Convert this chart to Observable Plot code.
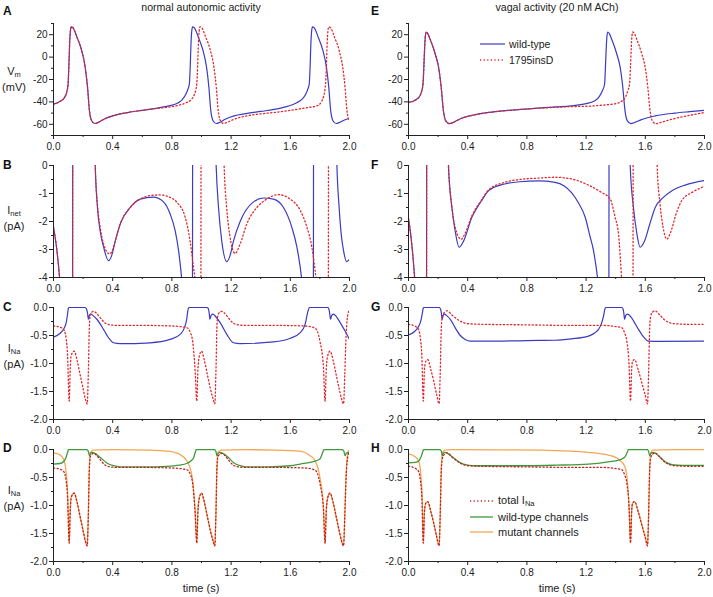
<!DOCTYPE html>
<html>
<head>
<meta charset="utf-8">
<script src="https://cdn.jsdelivr.net/npm/d3@7"></script>
<script src="https://cdn.jsdelivr.net/npm/@observablehq/plot@0.6"></script>
<style>
  html, body { margin: 0; padding: 0; background: #fff; }
  #root { position: relative; width: 713px; height: 597px; overflow: hidden; font-family: "Liberation Sans", Arial, sans-serif; }
  #root svg.plotpanel { position: absolute; }
  #ov { position: absolute; left: 0; top: 0; pointer-events: none; }
</style>
</head>
<body>
<div id="root">
<svg id="ov" width="713" height="597" font-family="Liberation Sans, Arial, sans-serif" fill="#222">
  <text x="201" y="11" font-size="10.6" text-anchor="middle">normal autonomic activity</text>
  <text x="557" y="11" font-size="10.6" text-anchor="middle">vagal activity (20 nM ACh)</text>
  <g font-size="12" font-weight="bold" fill="#111">
    <text x="3" y="15">A</text><text x="371" y="15">E</text>
    <text x="3" y="169">B</text><text x="371" y="169">F</text>
    <text x="3" y="311">C</text><text x="371" y="311">G</text>
    <text x="3" y="452">D</text><text x="371" y="452">H</text>
  </g>
  <g font-size="11" text-anchor="middle">
    <text x="14" y="75">V<tspan font-size="7.5" dy="2">m</tspan></text>
    <text x="14" y="91">(mV)</text>
    <text x="14" y="214">I<tspan font-size="7.5" dy="2">net</tspan></text>
    <text x="14" y="230">(pA)</text>
    <text x="14" y="352">I<tspan font-size="7.5" dy="2">Na</tspan></text>
    <text x="14" y="368">(pA)</text>
    <text x="14" y="494">I<tspan font-size="7.5" dy="2">Na</tspan></text>
    <text x="14" y="510">(pA)</text>
  </g>
  <g font-size="11" text-anchor="middle">
    <text x="201" y="592">time (s)</text>
    <text x="557" y="592">time (s)</text>
  </g>
  <g font-size="10.5">
    <line x1="480" x2="505" y1="44" y2="44" stroke="#3b3bc4" stroke-width="1.2"/>
    <text x="509" y="48">wild-type</text>
    <line x1="480" x2="505" y1="60" y2="60" stroke="#e3262b" stroke-width="1.3" stroke-dasharray="1.2,2.4"/>
    <text x="509" y="64">1795insD</text>
  </g>
  <g font-size="11">
    <line x1="470" x2="493" y1="501" y2="501" stroke="#c42222" stroke-width="1.3" stroke-dasharray="1.2,2.4"/>
    <text x="498" y="504">total I<tspan font-size="7.5" dy="2">Na</tspan></text>
    <line x1="470" x2="493" y1="517" y2="517" stroke="#409a3c" stroke-width="1.3"/>
    <text x="498" y="521">wild-type channels</text>
    <line x1="470" x2="493" y1="532" y2="532" stroke="#f4a553" stroke-width="1.3"/>
    <text x="498" y="536">mutant channels</text>
  </g>
</svg>
</div>
<script>
// ---------- tick values ----------
const xTicks = [0, 0.4, 0.8, 1.2, 1.6, 2.0];
const xMinorTicks = [0.2, 0.6, 1.0, 1.4, 1.8];
const vmTicks = [-60, -40, -20, 0, 20];
const vmMinorTicks = [-70, -50, -30, -10, 10, 30];
const inetTicks = [-4, -3, -2, -1, 0];
const inetMinorTicks = [-3.5, -2.5, -1.5, -0.5];
const inaTicks = [-2, -1.5, -1, -0.5, 0];
const inaMinorTicks = [-1.75, -1.25, -0.75, -0.25];

// ---------- A: Vm, normal autonomic activity ----------
const vmNormalWT = [[0,-42],[0.045,-39.5],[0.075,-36],[0.09,-31],[0.098,-25],[0.104,-8],[0.109,12],[0.114,23],[0.12,27],[0.13,26.5],[0.158,18],[0.19,6],[0.214,-9],[0.23,-27],[0.243,-48],[0.259,-57],[0.28,-59.3],[0.30,-58.5],[0.34,-55.5],[0.40,-52.5],[0.5,-49.5],[0.6,-47.5],[0.7,-45.5],[0.78,-43.5],[0.84,-41],[0.87,-38],[0.895,-33],[0.91,-28],[0.918,-24],[0.924,-8],[0.929,12],[0.934,23],[0.94,27],[0.95,26.5],[0.978,18],[1.01,6],[1.034,-9],[1.05,-27],[1.063,-48],[1.079,-57],[1.10,-59.3],[1.12,-58.5],[1.16,-55.5],[1.22,-52.5],[1.3,-50.5],[1.4,-48.5],[1.5,-46.5],[1.58,-44],[1.64,-41],[1.68,-37.5],[1.705,-33],[1.72,-28],[1.728,-24],[1.734,-8],[1.739,12],[1.744,23],[1.75,27],[1.76,26.5],[1.788,18],[1.82,6],[1.844,-9],[1.86,-27],[1.873,-48],[1.889,-57],[1.91,-59.3],[1.93,-58.5],[1.97,-56],[2.0,-54.5]];
const vmNormalMut = [[0,-42],[0.045,-39.5],[0.075,-36],[0.09,-31],[0.098,-25],[0.104,-8],[0.109,12],[0.114,23],[0.12,27],[0.13,26.5],[0.158,18],[0.19,6],[0.214,-9],[0.23,-27],[0.243,-48],[0.259,-57],[0.28,-59.3],[0.30,-58.5],[0.34,-55.5],[0.40,-52.5],[0.5,-49.5],[0.6,-47.5],[0.7,-45.8],[0.8,-44.2],[0.86,-42.5],[0.9,-40.5],[0.93,-38],[0.95,-34],[0.962,-29],[0.968,-24],[0.974,-8],[0.979,12],[0.984,23],[0.99,27],[1.0,26.5],[1.028,18],[1.06,6],[1.084,-9],[1.1,-27],[1.113,-48],[1.129,-57],[1.15,-59.3],[1.17,-58.5],[1.21,-56],[1.27,-53.5],[1.35,-51.5],[1.45,-50],[1.55,-48.5],[1.65,-46.5],[1.72,-45],[1.78,-43.5],[1.81,-40],[1.825,-35],[1.834,-29],[1.838,-24],[1.844,-8],[1.849,12],[1.854,23],[1.86,27],[1.87,26.5],[1.898,18],[1.93,6],[1.954,-9],[1.97,-27],[1.983,-48],[1.999,-57],[2.0,-57.3]];

// ---------- E: Vm, vagal activity ----------
const vmVagalWT = [[0,-40.5],[0.045,-38.5],[0.075,-35],[0.09,-30],[0.098,-24],[0.104,-8],[0.109,8],[0.114,19],[0.12,22.4],[0.13,21],[0.146,16],[0.18,3],[0.203,-9],[0.221,-27],[0.236,-48],[0.252,-57],[0.275,-59.4],[0.30,-58.5],[0.35,-55],[0.43,-52],[0.55,-49.3],[0.7,-47.3],[0.85,-45.8],[1.0,-44.5],[1.1,-43.5],[1.2,-41.5],[1.26,-39],[1.29,-35],[1.31,-30],[1.325,-24],[1.331,-8],[1.336,8],[1.341,19],[1.347,22.4],[1.357,21],[1.373,16],[1.407,3],[1.43,-9],[1.448,-27],[1.463,-48],[1.479,-57],[1.502,-59.4],[1.53,-58.3],[1.57,-56],[1.667,-52.5],[1.8,-50],[1.9,-48.7],[2.0,-47.5]];
const vmVagalMut = [[0,-40.5],[0.045,-38.5],[0.075,-35],[0.09,-30],[0.098,-24],[0.104,-8],[0.109,8],[0.114,19],[0.12,22.4],[0.13,21],[0.146,16],[0.18,3],[0.203,-9],[0.221,-27],[0.236,-48],[0.252,-57],[0.275,-59.4],[0.30,-58.5],[0.35,-55],[0.43,-52],[0.55,-49.3],[0.7,-47.3],[0.85,-45.9],[1.0,-44.8],[1.1,-44.2],[1.216,-43.8],[1.3,-43],[1.4,-41.5],[1.44,-39.5],[1.465,-36],[1.482,-30],[1.494,-24],[1.5,-8],[1.505,8],[1.51,19],[1.516,22.4],[1.526,21],[1.542,16],[1.576,3],[1.599,-9],[1.617,-27],[1.632,-48],[1.648,-57],[1.671,-59.4],[1.7,-58.5],[1.78,-55.5],[1.9,-52],[2.0,-49.5]];

// ---------- B: Inet, normal ----------
const inetNormalWT = [[0,-2.2],[0.02,-2.9],[0.045,-4.3],[0.08,-8],[0.127,-12],[0.132,8],[0.2,8],[0.27,3],[0.282,0],[0.297,-1.5],[0.315,-2.33],[0.338,-2.9],[0.372,-3.4],[0.394,-3.2],[0.417,-2.7],[0.45,-2.1],[0.518,-1.5],[0.586,-1.2],[0.676,-1.13],[0.743,-1.3],[0.788,-1.73],[0.822,-2.33],[0.845,-3.04],[0.867,-4.1],[0.9,-7],[0.937,-12],[0.942,8],[1.02,8],[1.085,3],[1.099,0],[1.115,-1.5],[1.137,-2.7],[1.171,-3.43],[1.194,-3.2],[1.216,-2.7],[1.261,-2.0],[1.351,-1.3],[1.419,-1.16],[1.486,-1.2],[1.554,-1.5],[1.61,-2.2],[1.644,-2.9],[1.678,-4.1],[1.72,-7],[1.754,-12],[1.759,8],[1.85,8],[1.903,3],[1.915,0],[1.93,-1.5],[1.945,-2.5],[1.96,-3.05],[1.98,-3.43],[2.0,-3.35]];
const inetNormalMut = [[0,-2.2],[0.02,-2.9],[0.045,-4.3],[0.08,-8],[0.127,-12],[0.132,8],[0.2,8],[0.27,3],[0.282,0],[0.297,-1.4],[0.315,-2.2],[0.338,-2.8],[0.38,-3.16],[0.40,-3.0],[0.42,-2.65],[0.45,-2.1],[0.518,-1.5],[0.586,-1.2],[0.66,-1.07],[0.72,-1.05],[0.78,-1.12],[0.833,-1.31],[0.89,-1.85],[0.923,-2.7],[0.946,-3.64],[0.957,-4.1],[0.98,-7],[0.994,-12],[0.999,8],[1.08,8],[1.14,3],[1.153,0],[1.17,-1.5],[1.19,-2.45],[1.227,-3.14],[1.261,-2.8],[1.306,-2.09],[1.374,-1.5],[1.441,-1.2],[1.52,-1.04],[1.599,-1.2],[1.667,-1.6],[1.712,-2.2],[1.745,-2.9],[1.775,-4.1],[1.82,-7],[1.855,-12],[1.86,8],[2.0,8]];

// ---------- F: Inet, vagal ----------
const inetVagalWT = [[0,-1.9],[0.02,-2.7],[0.045,-4.3],[0.08,-8],[0.12,-12],[0.125,8],[0.2,8],[0.26,3],[0.27,0],[0.293,-1.5],[0.315,-2.33],[0.342,-2.92],[0.372,-2.7],[0.428,-1.85],[0.495,-1.25],[0.54,-0.9],[0.65,-0.66],[0.75,-0.58],[0.88,-0.55],[0.99,-0.6],[1.05,-0.72],[1.10,-0.96],[1.15,-1.35],[1.194,-1.85],[1.225,-2.5],[1.25,-3.04],[1.279,-4.1],[1.32,-7],[1.352,-12],[1.357,8],[1.45,8],[1.488,3],[1.498,0],[1.52,-1.5],[1.54,-2.33],[1.565,-2.92],[1.595,-2.7],[1.63,-2.1],[1.667,-1.5],[1.72,-1.15],[1.78,-0.9],[1.87,-0.7],[2.0,-0.54]];
const inetVagalMut = [[0,-1.9],[0.02,-2.7],[0.045,-4.3],[0.08,-8],[0.12,-12],[0.125,8],[0.2,8],[0.26,3],[0.27,0],[0.293,-1.45],[0.32,-2.3],[0.356,-2.63],[0.38,-2.45],[0.428,-1.8],[0.495,-1.22],[0.54,-0.88],[0.65,-0.6],[0.75,-0.5],[0.88,-0.45],[0.99,-0.42],[1.1,-0.48],[1.216,-0.7],[1.3,-0.95],[1.363,-1.2],[1.396,-1.85],[1.419,-2.45],[1.441,-4.1],[1.48,-7],[1.515,-12],[1.52,8],[1.62,8],[1.67,3],[1.68,0],[1.70,-1.4],[1.72,-2.2],[1.745,-2.63],[1.77,-2.4],[1.81,-1.7],[1.847,-1.25],[1.92,-0.95],[2.0,-0.74]];

// ---------- C: INa, normal ----------
const inaNormalWT = [[0,-0.53],[0.045,-0.46],[0.07,-0.38],[0.085,-0.28],[0.095,-0.12],[0.1,-0.02],[0.105,0],[0.21,0],[0.222,-0.02],[0.23,-0.1],[0.236,-0.21],[0.243,-0.14],[0.252,-0.12],[0.27,-0.15],[0.293,-0.21],[0.338,-0.39],[0.372,-0.54],[0.405,-0.63],[0.45,-0.645],[0.653,-0.63],[0.788,-0.57],[0.856,-0.48],[0.885,-0.36],[0.9,-0.21],[0.908,-0.05],[0.915,0],[1.036,0],[1.046,-0.02],[1.052,-0.1],[1.057,-0.21],[1.065,-0.14],[1.077,-0.12],[1.095,-0.16],[1.126,-0.27],[1.171,-0.48],[1.216,-0.63],[1.26,-0.645],[1.486,-0.615],[1.6,-0.55],[1.667,-0.45],[1.7,-0.3],[1.72,-0.06],[1.73,0],[1.851,0],[1.86,-0.02],[1.866,-0.1],[1.872,-0.21],[1.88,-0.14],[1.892,-0.12],[1.91,-0.16],[1.937,-0.27],[1.97,-0.42],[2.0,-0.57]];
const inaNormalMut = [[0,-0.33],[0.04,-0.35],[0.068,-0.39],[0.085,-0.55],[0.095,-0.85],[0.106,-1.67],[0.113,-1.1],[0.12,-0.85],[0.14,-0.78],[0.16,-0.95],[0.18,-1.2],[0.2,-1.45],[0.214,-1.62],[0.228,-1.72],[0.235,-1.2],[0.243,-0.3],[0.25,-0.12],[0.27,-0.07],[0.29,-0.1],[0.315,-0.18],[0.35,-0.28],[0.383,-0.31],[0.43,-0.32],[0.6,-0.32],[0.8,-0.33],[0.9,-0.36],[0.925,-0.45],[0.94,-0.6],[0.957,-1.13],[0.968,-1.67],[0.976,-1.1],[0.985,-0.87],[1.0,-0.78],[1.02,-0.95],[1.04,-1.2],[1.06,-1.45],[1.077,-1.62],[1.09,-1.72],[1.097,-1.2],[1.105,-0.3],[1.112,-0.12],[1.135,-0.07],[1.155,-0.1],[1.18,-0.18],[1.215,-0.28],[1.25,-0.31],[1.3,-0.32],[1.5,-0.32],[1.7,-0.33],[1.768,-0.37],[1.8,-0.6],[1.824,-1.07],[1.835,-1.67],[1.843,-1.1],[1.852,-0.87],[1.868,-0.78],[1.89,-0.95],[1.91,-1.2],[1.93,-1.45],[1.945,-1.62],[1.96,-1.72],[1.968,-1.2],[1.977,-0.5],[1.985,-0.2],[1.995,-0.07],[2.0,-0.06]];

// ---------- G: INa, vagal ----------
const inaVagalWT = [[0,-0.49],[0.045,-0.42],[0.068,-0.34],[0.085,-0.22],[0.095,-0.08],[0.1,-0.01],[0.105,0],[0.207,0],[0.217,-0.03],[0.222,-0.1],[0.227,-0.21],[0.235,-0.14],[0.243,-0.12],[0.26,-0.15],[0.285,-0.22],[0.315,-0.36],[0.35,-0.5],[0.383,-0.57],[0.417,-0.6],[0.6,-0.6],[0.8,-0.59],[0.99,-0.585],[1.1,-0.56],[1.216,-0.51],[1.26,-0.45],[1.284,-0.39],[1.305,-0.28],[1.318,-0.15],[1.328,-0.02],[1.335,0],[1.44,0],[1.45,-0.03],[1.455,-0.1],[1.46,-0.21],[1.468,-0.14],[1.48,-0.12],[1.5,-0.16],[1.525,-0.26],[1.554,-0.39],[1.59,-0.53],[1.62,-0.6],[1.7,-0.605],[2.0,-0.6]];
const inaVagalMut = [[0,-0.3],[0.04,-0.33],[0.068,-0.39],[0.08,-0.55],[0.09,-0.85],[0.1,-1.67],[0.108,-1.1],[0.117,-0.96],[0.13,-0.93],[0.15,-1.1],[0.17,-1.31],[0.19,-1.55],[0.207,-1.72],[0.214,-1.2],[0.222,-0.35],[0.23,-0.15],[0.245,-0.08],[0.26,-0.06],[0.3,-0.15],[0.34,-0.23],[0.405,-0.29],[0.5,-0.3],[0.8,-0.31],[1.1,-0.32],[1.306,-0.32],[1.4,-0.34],[1.44,-0.36],[1.46,-0.45],[1.475,-0.6],[1.49,-1.01],[1.5,-1.67],[1.508,-1.1],[1.514,-0.96],[1.527,-0.93],[1.554,-1.13],[1.58,-1.38],[1.6,-1.57],[1.615,-1.72],[1.622,-1.2],[1.63,-0.35],[1.637,-0.15],[1.65,-0.08],[1.665,-0.06],[1.7,-0.14],[1.734,-0.23],[1.8,-0.29],[1.9,-0.3],[2.0,-0.3]];

// ---------- D: INa components, normal ----------
const wtChannelsNormal = [[0,-0.26],[0.045,-0.25],[0.07,-0.21],[0.085,-0.14],[0.095,-0.05],[0.102,0],[0.222,0],[0.235,-0.03],[0.243,-0.11],[0.25,-0.07],[0.26,-0.05],[0.28,-0.07],[0.315,-0.14],[0.36,-0.24],[0.405,-0.29],[0.45,-0.31],[0.6,-0.31],[0.766,-0.3],[0.85,-0.28],[0.9,-0.25],[0.93,-0.2],[0.946,-0.15],[0.958,-0.05],[0.965,0],[1.085,0],[1.097,-0.03],[1.104,-0.11],[1.112,-0.07],[1.125,-0.05],[1.145,-0.07],[1.18,-0.14],[1.22,-0.24],[1.26,-0.29],[1.3,-0.31],[1.45,-0.31],[1.6,-0.29],[1.667,-0.26],[1.75,-0.22],[1.8,-0.17],[1.818,-0.06],[1.828,0],[1.95,0],[1.962,-0.03],[1.97,-0.11],[1.978,-0.07],[1.99,-0.05],[2.0,-0.05]];
const mutChannelsNormal = [[0,-0.06],[0.04,-0.09],[0.068,-0.17],[0.085,-0.4],[0.095,-0.75],[0.106,-1.67],[0.113,-1.1],[0.12,-0.85],[0.14,-0.78],[0.16,-0.95],[0.18,-1.2],[0.2,-1.45],[0.214,-1.62],[0.228,-1.72],[0.235,-1.2],[0.243,-0.25],[0.25,-0.05],[0.27,-0.01],[0.4,-0.003],[0.65,-0.01],[0.77,-0.03],[0.856,-0.09],[0.9,-0.2],[0.925,-0.35],[0.94,-0.55],[0.957,-1.1],[0.968,-1.67],[0.976,-1.1],[0.985,-0.87],[1.0,-0.78],[1.02,-0.95],[1.04,-1.2],[1.06,-1.45],[1.077,-1.62],[1.09,-1.72],[1.097,-1.2],[1.105,-0.25],[1.112,-0.05],[1.135,-0.01],[1.3,-0.004],[1.5,-0.01],[1.667,-0.03],[1.734,-0.11],[1.768,-0.2],[1.8,-0.5],[1.824,-1.05],[1.835,-1.67],[1.843,-1.1],[1.852,-0.87],[1.868,-0.78],[1.89,-0.95],[1.91,-1.2],[1.93,-1.45],[1.945,-1.62],[1.96,-1.72],[1.968,-1.2],[1.977,-0.45],[1.985,-0.12],[1.995,-0.02],[2.0,-0.01]];

// ---------- H: INa components, vagal ----------
const wtChannelsVagal = [[0,-0.24],[0.045,-0.23],[0.07,-0.2],[0.085,-0.13],[0.095,-0.05],[0.102,0],[0.21,0],[0.222,-0.03],[0.228,-0.11],[0.235,-0.07],[0.245,-0.05],[0.265,-0.07],[0.3,-0.14],[0.345,-0.23],[0.4,-0.28],[0.45,-0.29],[0.8,-0.29],[1.0,-0.28],[1.216,-0.26],[1.35,-0.22],[1.42,-0.19],[1.46,-0.14],[1.478,-0.05],[1.486,0],[1.612,0],[1.622,-0.03],[1.63,-0.11],[1.638,-0.07],[1.65,-0.05],[1.67,-0.07],[1.7,-0.14],[1.74,-0.23],[1.78,-0.27],[1.85,-0.285],[2.0,-0.285]];
const mutChannelsVagal = [[0,-0.08],[0.045,-0.13],[0.068,-0.2],[0.085,-0.5],[0.092,-0.8],[0.1,-1.67],[0.108,-1.1],[0.117,-0.96],[0.13,-0.93],[0.15,-1.1],[0.17,-1.31],[0.19,-1.55],[0.207,-1.72],[0.214,-1.2],[0.222,-0.3],[0.23,-0.06],[0.245,-0.01],[0.3,-0.003],[0.6,-0.005],[0.9,-0.01],[1.1,-0.03],[1.216,-0.05],[1.35,-0.1],[1.4,-0.14],[1.44,-0.22],[1.464,-0.32],[1.48,-0.6],[1.49,-1.0],[1.5,-1.67],[1.508,-1.1],[1.514,-0.96],[1.527,-0.93],[1.554,-1.13],[1.58,-1.38],[1.6,-1.57],[1.615,-1.72],[1.622,-1.2],[1.63,-0.3],[1.637,-0.06],[1.65,-0.01],[1.8,-0.003],[2.0,-0.003]];

// ---------- styles ----------
const BLUE = "#3b3bc4", RED = "#e3262b", TOTAL = "#c42222", GREEN = "#409a3c", ORANGE = "#f4a553";
const solid = (data, stroke, w = 1.2) => Plot.line(data, {x: d => d[0], y: d => d[1], stroke, strokeWidth: w, curve: "monotone-x", clip: true});
const dotted = (data, stroke) => Plot.line(data, {x: d => d[0], y: d => d[1], stroke, strokeWidth: 1.3, strokeDasharray: "1.2,2.4", curve: "monotone-x", clip: true});

const fmtInt = d => String(d);
const fmt1 = d => d.toFixed(1);

const root = document.getElementById("root");
const overlay = document.getElementById("ov");

function panel(col, row, yDomain, yTicks, yMinor, yFmt, lines) {
  const svg = Plot.plot({
    width: col ? 358 : 356,
    height: 142,
    marginLeft: 53,
    marginRight: col ? 9 : 7,
    marginTop: 8,
    marginBottom: 22,
    style: {background: "transparent", fontFamily: "'Liberation Sans', Arial, sans-serif", fontSize: "10px", color: "#222", overflow: "visible"},
    x: {domain: [0, 2]},
    y: {domain: yDomain},
    marks: [
      ...lines,
      Plot.ruleX([0], {stroke: "#222", strokeWidth: 1}),
      Plot.ruleY([yDomain[0]], {stroke: "#222", strokeWidth: 1}),
      Plot.axisX({ticks: xTicks, tickSize: 4, tickPadding: 3, tickFormat: fmt1, label: null}),
      Plot.axisX({ticks: xMinorTicks, tickSize: 2, tickFormat: () => "", label: null}),
      Plot.axisY({ticks: yTicks, tickSize: 4, tickPadding: 2, tickFormat: yFmt, label: null}),
      Plot.axisY({ticks: yMinor, tickSize: 2, tickFormat: () => "", label: null})
    ]
  });
  svg.classList.add("plotpanel");
  svg.style.left = (col ? 355 : 0) + "px";
  svg.style.top = (15 + row * 142) + "px";
  root.insertBefore(svg, overlay);
}

const vmDomain = [-70, 30], inetDomain = [-4, 0], inaDomain = [-2, 0];

panel(0, 0, vmDomain, vmTicks, vmMinorTicks, fmtInt, [solid(vmNormalWT, BLUE), dotted(vmNormalMut, RED)]);
panel(1, 0, vmDomain, vmTicks, vmMinorTicks, fmtInt, [solid(vmVagalWT, BLUE), dotted(vmVagalMut, RED)]);
panel(0, 1, inetDomain, inetTicks, inetMinorTicks, fmtInt, [solid(inetNormalWT, BLUE), dotted(inetNormalMut, RED)]);
panel(1, 1, inetDomain, inetTicks, inetMinorTicks, fmtInt, [solid(inetVagalWT, BLUE), dotted(inetVagalMut, RED)]);
panel(0, 2, inaDomain, inaTicks, inaMinorTicks, fmt1, [solid(inaNormalWT, BLUE), dotted(inaNormalMut, RED)]);
panel(1, 2, inaDomain, inaTicks, inaMinorTicks, fmt1, [solid(inaVagalWT, BLUE), dotted(inaVagalMut, RED)]);
panel(0, 3, inaDomain, inaTicks, inaMinorTicks, fmt1, [solid(mutChannelsNormal, ORANGE, 1.3), solid(wtChannelsNormal, GREEN, 1.3), dotted(inaNormalMut, TOTAL)]);
panel(1, 3, inaDomain, inaTicks, inaMinorTicks, fmt1, [solid(mutChannelsVagal, ORANGE, 1.3), solid(wtChannelsVagal, GREEN, 1.3), dotted(inaVagalMut, TOTAL)]);
</script>
</body>
</html>
